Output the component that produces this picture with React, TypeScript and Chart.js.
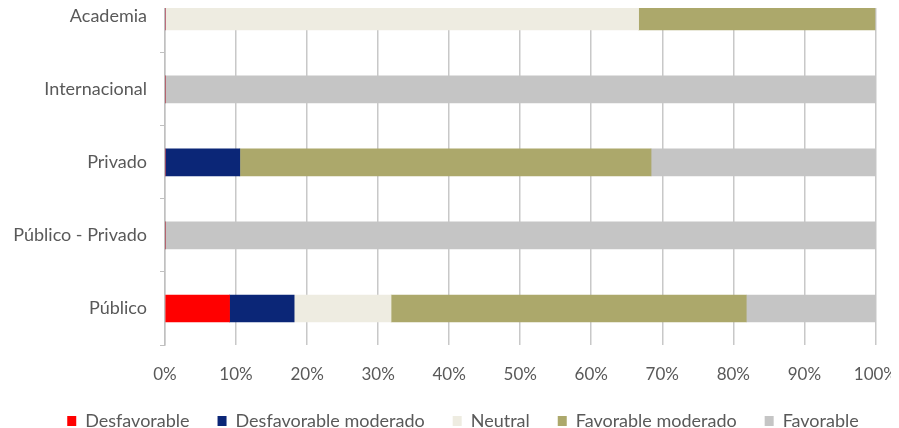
import React, { useEffect, useRef } from 'react';
import { Chart, registerables } from 'chart.js';

Chart.register(...registerables);

const categories = ['Academia', 'Internacional', 'Privado', 'Público - Privado', 'Público'];
const desfavorable = [0, 0, 0, 0, 9.09];
const desfavorableModerado = [0, 0, 10.53, 0, 9.09];
const neutral = [66.67, 0, 0, 0, 13.64];
const favorableModerado = [33.33, 0, 57.89, 0, 50];
const favorable = [0, 100, 31.58, 100, 18.18];
const xTicks = [0, 10, 20, 30, 40, 50, 60, 70, 80, 90, 100];

const TEXT = '#595959';
const FONT = 'Lato, "DejaVu Sans", sans-serif';

export default function App() {
  const ref = useRef<HTMLCanvasElement>(null);
  useEffect(() => {
    const chart = new Chart(ref.current!, {
      type: 'bar',
      data: {
        labels: categories,
        datasets: [
          { label: 'Desfavorable', data: desfavorable, backgroundColor: '#ff0000' },
          { label: 'Desfavorable moderado', data: desfavorableModerado, backgroundColor: '#0b2677' },
          { label: 'Neutral', data: neutral, backgroundColor: '#eeece1' },
          { label: 'Favorable moderado', data: favorableModerado, backgroundColor: '#aca86b' },
          { label: 'Favorable', data: favorable, backgroundColor: '#c5c5c5' },
        ],
      },
      options: {
        indexAxis: 'y',
        responsive: false,
        maintainAspectRatio: false,
        animation: false,
        layout: { padding: { left: 2, right: 0, top: 0, bottom: 0 } },
        datasets: { bar: { barThickness: 27 } },
        scales: {
          x: {
            stacked: true,
            min: 0,
            max: 100,
            afterBuildTicks: (s: any) => { s.ticks = xTicks.map((v) => ({ value: v })); },
            ticks: {
              callback: (v: any) => v + '%',
              padding: 19,
              color: TEXT,
              font: { family: FONT, size: 17 },
              maxRotation: 0,
            },
            grid: { color: '#c8c8c8', drawTicks: false, lineWidth: 1.5 },
            border: { display: false },
            afterFit: (s: any) => { s.height = 39; },
          },
          y: {
            stacked: true,
            grid: { drawOnChartArea: false, tickLength: 5, color: '#c0c0c0' },
            border: { display: true, color: '#c0c0c0', width: 1.5 },
            ticks: { padding: 13, color: TEXT, font: { family: FONT, size: 18 } },
            afterFit: (s: any) => {
              s.width = 155;
              s._computeLabelArea = () => undefined;
            },
          },
        },
        plugins: {
          legend: {
            position: 'bottom',
            labels: {
              boxWidth: 9,
              boxHeight: 10,
              padding: 28,
              color: TEXT,
              font: { family: FONT, size: 18 },
            },
          },
          tooltip: { enabled: false },
        },
      } as any,
    });
    return () => chart.destroy();
  }, []);
  return (
    <div style={{ position: 'relative', width: 891, height: 420, overflow: 'hidden' }}>
      <canvas
        ref={ref}
        width={908}
        height={484}
        style={{ display: 'block', position: 'absolute', left: 0, top: -52, width: 908, height: 484 }}
      />
    </div>
  );
}
